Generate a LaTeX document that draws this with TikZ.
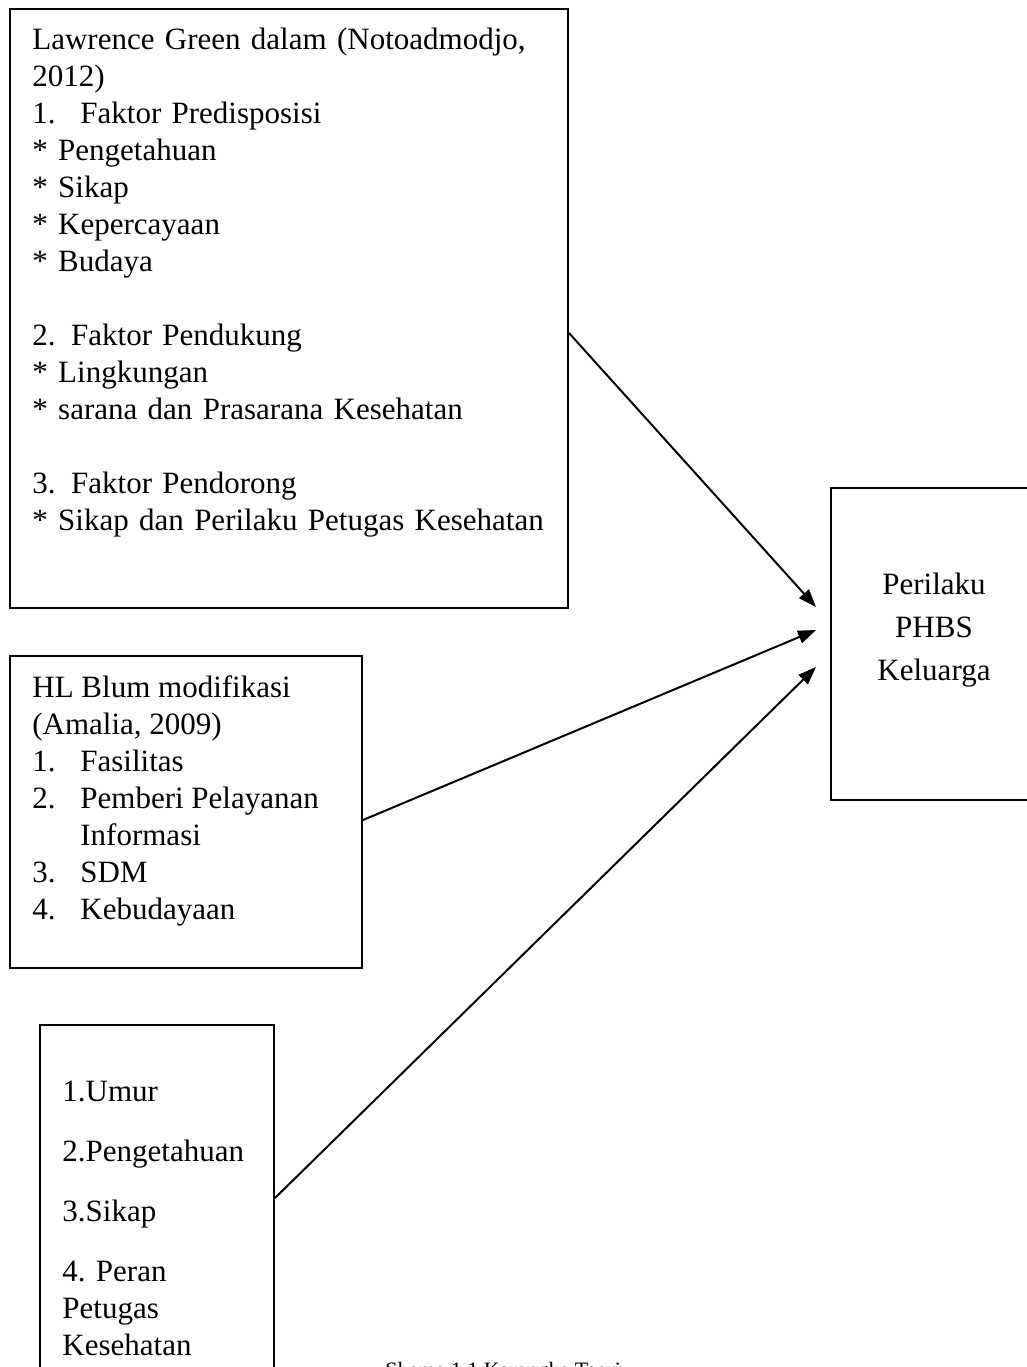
\documentclass[tikz,border=0pt]{standalone}
\usepackage{fontspec}
\setmainfont{Liberation Serif}
\usetikzlibrary{arrows.meta}

\tikzset{
	kotak/.style={draw,line width=1pt,inner sep=0pt},
	teks/.style={anchor=north west,inner sep=0pt,align=left,font=\fontsize{15.5}{18.5}\selectfont},
	panah/.style={-{Triangle[length=9pt,width=6.5pt]},line width=1pt}
}

\begin{document}
\begin{tikzpicture}[x=0.5pt,y=-0.5pt]
	\useasboundingbox (0,0) rectangle (1027,1367);
	
	\node[kotak,minimum width=279pt,minimum height=299.5pt] (green) at (289,308.5) {};
	\node[teks,text width=270pt] (greentxt) at (32,28) {\makebox[258pt][s]{Lawrence Green dalam (Notoadmodjo,}\\
		2012)\\
		\makebox[24pt][l]{1.}Faktor Predisposisi\\
		{*} Pengetahuan\\
		{*} Sikap\\
		{*} Kepercayaan\\
		{*} Budaya\\
		~\\
		2. Faktor Pendukung\\
		{*} Lingkungan\\
		{*} sarana dan Prasarana Kesehatan\\
		~\\
		3. Faktor Pendorong\\
		{*} Sikap dan Perilaku Petugas Kesehatan};
	
	\node[kotak,minimum width=176pt,minimum height=156pt] (blum) at (186,812) {};
	\node[teks] (blumtxt) at (32,675) {HL Blum modifikasi\\
		(Amalia, 2009)\\
		\makebox[24pt][l]{1.}Fasilitas\\
		\makebox[24pt][l]{2.}Pemberi Pelayanan\\
		\hspace*{24pt}Informasi\\
		\makebox[24pt][l]{3.}SDM\\
		\makebox[24pt][l]{4.}Kebudayaan};
	
	\node[kotak,minimum width=117pt,minimum height=187.5pt] (faktor) at (157,1212.5) {};
	\node[teks] (faktortxt) at (62,1081) {1.Umur\\[11.5pt]
		2.Pengetahuan\\[11.5pt]
		3.Sikap\\[11.5pt]
		4. Peran\\
		Petugas\\
		Kesehatan};
	
	\node[kotak,minimum width=104.5pt,minimum height=156pt] (phbs) at (935.5,644) {};
	\node[teks,anchor=north,align=center,font=\fontsize{15.5}{21.5}\selectfont] (phbstxt) at (934,573) {Perilaku\\
		PHBS\\
		Keluarga};
	
	\draw[panah] ([yshift=-12.25pt]green.east) -- ([xshift=-7pt,yshift=18.5pt]phbs.west);
	\draw[panah] ([yshift=-4pt]blum.east) -- ([xshift=-7pt,yshift=7pt]phbs.west);
	\draw[panah] ([yshift=7.25pt]faktor.east) -- ([xshift=-7pt,yshift=-11.5pt]phbs.west);
	
	\node[anchor=north west,inner sep=0pt,font=\fontsize{11}{13}\selectfont] (judul) at (385,1362) {Skema 1.1 Kerangka Teori};
\end{tikzpicture}
\end{document}
